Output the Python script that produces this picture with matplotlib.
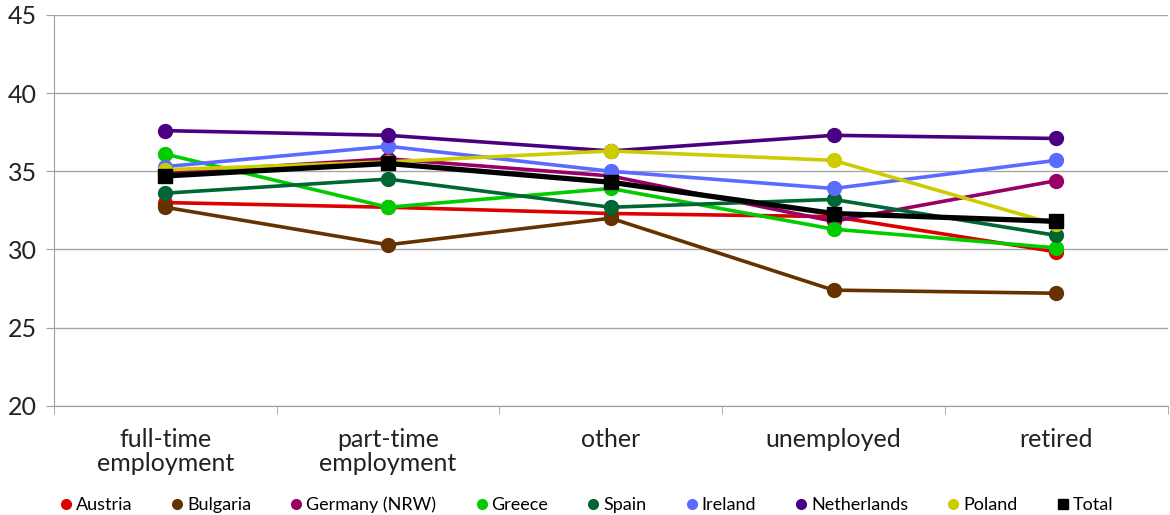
import matplotlib
matplotlib.use("Agg")
import matplotlib.pyplot as plt
from matplotlib.lines import Line2D

categories = ["full-time\nemployment", "part-time\nemployment", "other", "unemployed", "retired"]

austria = [33.0, 32.7, 32.3, 32.1, 29.85]
bulgaria = [32.7, 30.3, 32.0, 27.4, 27.2]
germany = [34.9, 35.8, 34.7, 31.8, 34.4]
greece = [36.1, 32.7, 33.9, 31.3, 30.1]
spain = [33.6, 34.5, 32.7, 33.2, 30.9]
ireland = [35.3, 36.6, 35.0, 33.9, 35.7]
netherlands = [37.6, 37.3, 36.3, 37.3, 37.1]
poland = [35.1, 35.6, 36.3, 35.7, 31.6]
total = [34.7, 35.5, 34.3, 32.3, 31.8]

series = [
    ("Austria", austria, "#dd0000"),
    ("Bulgaria", bulgaria, "#663300"),
    ("Germany (NRW)", germany, "#990066"),
    ("Greece", greece, "#00cc00"),
    ("Spain", spain, "#006633"),
    ("Ireland", ireland, "#5b6bff"),
    ("Netherlands", netherlands, "#4b0082"),
    ("Poland", poland, "#cccc00"),
]

plt.rcParams['font.family'] = ['Lato', 'DejaVu Sans']

fig = plt.figure(figsize=(11.7, 5.15), dpi=100)
ax = fig.add_axes([0.046, 0.212, 0.952, 0.759])

x = list(range(len(categories)))
handles = []
for name, vals, color in series:
    ax.plot(x, vals, color=color, lw=2.6, marker='o', markersize=10, zorder=3)
    handles.append(Line2D([], [], ls='none', marker='o', color=color, markersize=7, label=name))

ax.plot(x, total, color='black', lw=3.8, marker='s', markersize=10, zorder=4)
handles.append(Line2D([], [], ls='none', marker='s', color='black', markersize=7, label='Total'))

ax.set_ylim(20, 45)
ax.set_yticks([20, 25, 30, 35, 40, 45])
ax.set_xlim(-0.5, len(categories) - 0.5)
ax.set_xticks(x)
ax.set_xticklabels(categories, fontsize=18, color='#222222', linespacing=1.05)
ax.set_xticks([i - 0.5 for i in range(len(categories) + 1)], minor=True)
ax.tick_params(axis='x', which='major', length=0, pad=16)
ax.tick_params(axis='x', which='minor', length=6, color='#a0a0a0')
ax.tick_params(axis='y', labelsize=18, labelcolor='#222222', length=6, color='#a0a0a0', pad=6)

ax.grid(axis='y', color='#a6a6a6', lw=1)
ax.set_axisbelow(True)
for s in ['top', 'right']:
    ax.spines[s].set_visible(False)
for s in ['left', 'bottom']:
    ax.spines[s].set_color('#a0a0a0')

fig.legend(handles=handles, loc='lower center', bbox_to_anchor=(0.5, -0.028), ncol=9,
           frameon=False, fontsize=13, handletextpad=0.05, columnspacing=2.0,
           handlelength=1.0)

fig.savefig("out.png", dpi=100)
